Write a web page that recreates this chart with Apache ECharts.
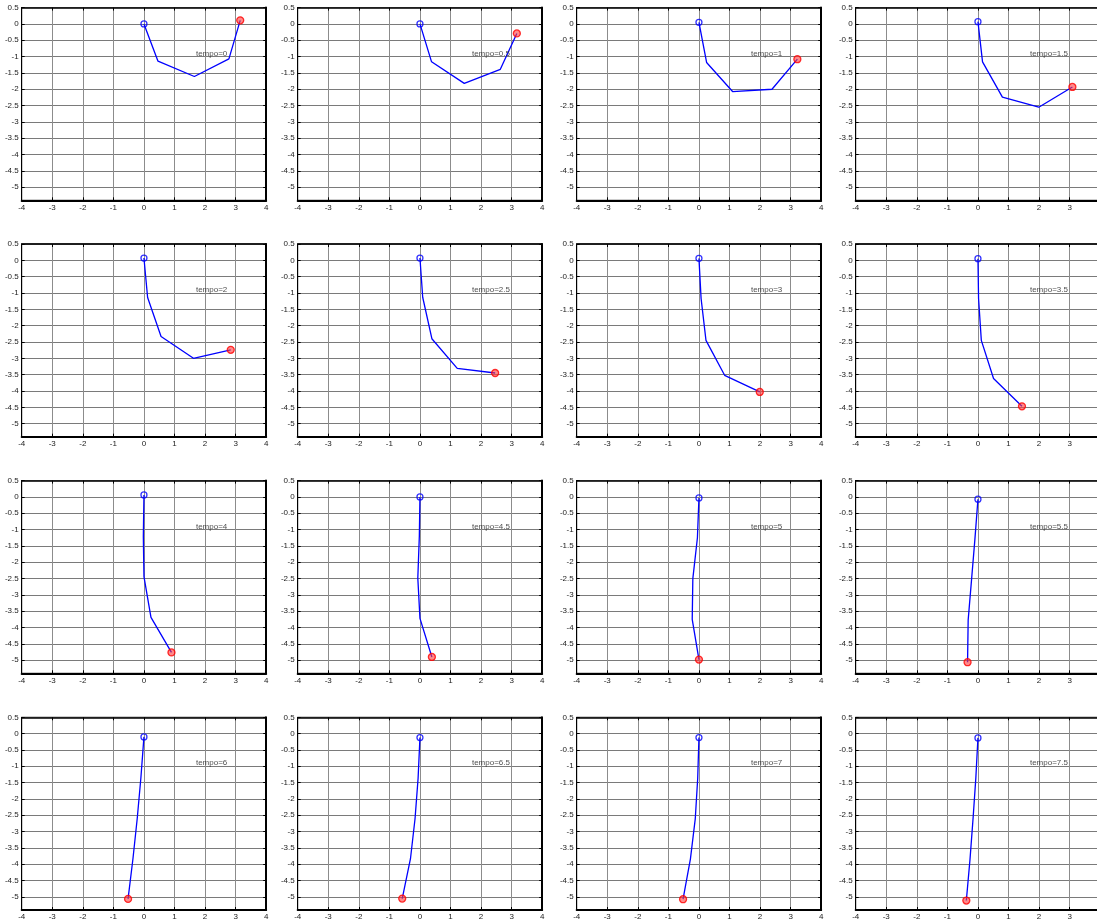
<!DOCTYPE html>
<html><head><meta charset="utf-8">
<script src="https://cdn.jsdelivr.net/npm/echarts@6/dist/echarts.min.js"></script>
<style>html,body{margin:0;padding:0;background:#fff;overflow:hidden}#c{width:1097px;height:924px}</style>
</head><body><div id="c"></div>
<script>
// time of each snapshot
const tempos = ['0','0.5','1','1.5','2','2.5','3','3.5','4','4.5','5','5.5','6','6.5','7','7.5'];
// x coordinates of the 5 chain nodes, one row per snapshot
const chainX = [
  [0, 0.46, 1.65, 2.78, 3.15],
  [0, 0.38, 1.45, 2.63, 3.17],
  [0, 0.25, 1.10, 2.39, 3.22],
  [0, 0.15, 0.80, 1.99, 3.09],
  [0, 0.12, 0.56, 1.62, 2.84],
  [0, 0.09, 0.39, 1.22, 2.46],
  [0, 0.07, 0.23, 0.84, 1.99],
  [0, 0.02, 0.11, 0.51, 1.44],
  [0, -0.02, 0.00, 0.23, 0.90],
  [0, -0.02, -0.07, 0.00, 0.39],
  [0, -0.05, -0.20, -0.22, 0.00],
  [0, -0.10, -0.21, -0.32, -0.34],
  [0, -0.10, -0.22, -0.36, -0.52],
  [0, -0.06, -0.16, -0.31, -0.58],
  [0, -0.04, -0.12, -0.28, -0.52],
  [0, -0.07, -0.16, -0.26, -0.38]
];
// y coordinates of the 5 chain nodes
const chainY = [
  [0.00, -1.14, -1.61, -1.07, 0.11],
  [0.00, -1.16, -1.82, -1.39, -0.29],
  [0.05, -1.18, -2.07, -2.00, -1.08],
  [0.07, -1.16, -2.24, -2.55, -1.93],
  [0.07, -1.14, -2.33, -3.00, -2.74],
  [0.07, -1.13, -2.40, -3.31, -3.45],
  [0.06, -1.17, -2.45, -3.52, -4.03],
  [0.05, -1.17, -2.45, -3.62, -4.47],
  [0.06, -1.21, -2.44, -3.69, -4.76],
  [0.00, -1.20, -2.48, -3.72, -4.90],
  [-0.03, -1.25, -2.50, -3.75, -4.98],
  [-0.07, -1.30, -2.54, -3.77, -5.06],
  [-0.10, -1.35, -2.60, -3.83, -5.06],
  [-0.12, -1.36, -2.60, -3.83, -5.05],
  [-0.12, -1.36, -2.60, -3.84, -5.07],
  [-0.13, -1.37, -2.60, -3.85, -5.11]
];
const xTicks = [-4, -3, -2, -1, 0, 1, 2, 3, 4];
const yTicks = [0.5, 0, -0.5, -1, -1.5, -2, -2.5, -3, -3.5, -4, -4.5, -5];
const textAt = [1.7, -0.9];

const colLeft = [21.7, 297.7, 576.7, 855.7];
const rowTop = [7.6, 244, 480.6, 717.3];
const W = 244.5, H = 192.7;
const XMIN = -4, XMAX = 4, YMIN = -5.4, YMAX = 0.5;
const FONT = 'Liberation Sans';

const grid = [], xAxis = [], yAxis = [], series = [];
tempos.forEach((t, i) => {
  const r = Math.floor(i / 4), c = i % 4;
  grid.push({left: colLeft[c], top: rowTop[r], width: W, height: H,
    show: true, borderColor: '#000', borderWidth: 1, containLabel: false,
    outerBoundsMode: 'none'});
  const xi = xAxis.length, yi = yAxis.length;
  xAxis.push({type: 'value', gridIndex: i, min: XMIN, max: XMAX, interval: 1,
    position: 'bottom',
    axisLine: {show: true, onZero: false, lineStyle: {color: '#000', width: 2}},
    axisTick: {show: true, inside: true, length: 3, lineStyle: {color: '#000'}},
    axisLabel: {show: true, margin: 3, fontSize: 8, fontFamily: FONT, color: '#222',
      customValues: xTicks, formatter: v => String(v), hideOverlap: false},
    splitLine: {show: true, lineStyle: {color: '#8c8c8c', width: 1}}});
  xAxis.push({type: 'value', gridIndex: i, min: XMIN, max: XMAX, interval: 1,
    position: 'top',
    axisLine: {show: true, onZero: false, lineStyle: {color: '#000', width: 1.5}},
    axisTick: {show: true, inside: true, length: 3, lineStyle: {color: '#000'}},
    axisLabel: {show: false}, splitLine: {show: false}});
  yAxis.push({type: 'value', gridIndex: i, min: YMIN, max: YMAX,
    position: 'left',
    axisLine: {show: true, onZero: false, lineStyle: {color: '#000', width: 1}},
    axisTick: {show: true, inside: true, length: 3, customValues: yTicks, lineStyle: {color: '#000'}},
    axisLabel: {show: true, margin: 3, fontSize: 8, fontFamily: FONT, color: '#222',
      customValues: yTicks, formatter: v => String(v), hideOverlap: false},
    splitLine: {show: true, lineStyle: {color: '#7a7a7a', width: 1}}});
  yAxis.push({type: 'value', gridIndex: i, min: YMIN, max: YMAX,
    position: 'right',
    axisLine: {show: true, onZero: false, lineStyle: {color: '#000', width: 2}},
    axisTick: {show: true, inside: true, length: 3, customValues: yTicks, lineStyle: {color: '#000'}},
    axisLabel: {show: false, customValues: yTicks}, splitLine: {show: false}});

  const pts = chainX[i].map((x, k) => [x, chainY[i][k]]);
  series.push({type: 'line', xAxisIndex: xi, yAxisIndex: yi, data: pts,
    symbol: 'none', lineStyle: {color: '#0000ff', width: 1.3}, animation: false, silent: true, z: 3});
  series.push({type: 'scatter', xAxisIndex: xi, yAxisIndex: yi, data: [pts[0]],
    symbol: 'circle', symbolSize: 6,
    itemStyle: {color: 'rgba(255,255,255,0)', borderColor: '#0000ff', borderWidth: 1.3},
    animation: false, silent: true, z: 4});
  series.push({type: 'scatter', xAxisIndex: xi, yAxisIndex: yi, data: [pts[pts.length - 1]],
    symbol: 'circle', symbolSize: 7,
    itemStyle: {color: 'rgba(255,60,60,0.75)', borderColor: '#ff0000', borderWidth: 1.3},
    animation: false, silent: true, z: 4});
  series.push({type: 'scatter', xAxisIndex: xi, yAxisIndex: yi, data: [textAt],
    symbol: 'circle', symbolSize: 0,
    label: {show: true, position: 'right', distance: 0, formatter: 'tempo=' + t,
      fontSize: 8, fontFamily: FONT, color: '#222'},
    animation: false, silent: true, z: 5});
});

const chart = echarts.init(document.getElementById('c'), null, {renderer: 'canvas'});
chart.setOption({backgroundColor: '#fff', animation: false, grid, xAxis, yAxis, series});
</script></body></html>
